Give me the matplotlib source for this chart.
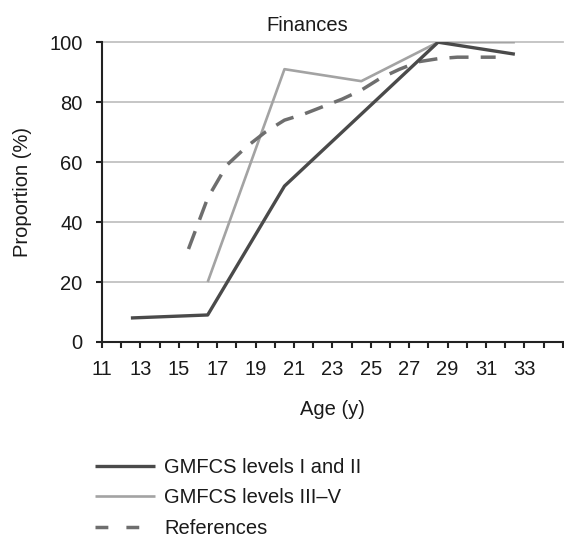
import numpy as np
import matplotlib
matplotlib.use("Agg")
import matplotlib.pyplot as plt

plt.rcParams['font.family'] = ['Liberation Sans', 'DejaVu Sans']

# age-group midpoints and proportions (%)
group_ages = [12.5, 16.5, 20.5, 24.5, 28.5, 32.5]
gmfcs_1_2 = [8, 9, 52, 76, 100, 96]
gmfcs_3_5 = [np.nan, 20, 91, 87, 100, 100]

ref_ages = [15.5, 16.5, 17.5, 18.5, 19.5, 20.5, 21.5, 22.5, 23.5,
            24.5, 25.5, 26.5, 27.5, 28.5, 29.5, 30.5, 31.5]
references = [31, 48, 59, 65, 70, 74, 76, 78.5, 81,
              84, 88, 91, 93.5, 94.5, 95, 95, 95]

x_labels = list(range(11, 35, 2))
y_ticks = [0, 20, 40, 60, 80, 100]

fs = 14.5

fig = plt.figure(figsize=(5.64, 5.48), dpi=100)
ax = fig.add_axes([0.181, 0.376, 0.817, 0.547])

for y in y_ticks[1:]:
    ax.axhline(y, color='#c2c2c2', lw=1.3, zorder=1, clip_on=False)

l1, = ax.plot(group_ages, gmfcs_1_2, color='#4a4a4a', lw=2.4,
              solid_capstyle='butt', zorder=3, label='GMFCS levels I and II')
l2, = ax.plot(group_ages, gmfcs_3_5, color='#a3a3a3', lw=1.9,
              solid_capstyle='butt', zorder=2, label='GMFCS levels III\u2013V')
l3, = ax.plot(ref_ages, references, color='#6e6e6e', lw=2.5,
              dashes=(5.5, 3.5), zorder=2, label='References')

ax.set_xlim(11, 35)
ax.set_ylim(0, 100)
ax.set_xticks(range(11, 36))
ax.set_xticklabels([str(v) if v in x_labels else '' for v in range(11, 36)])
ax.set_yticks(y_ticks)

for s in ['top', 'right']:
    ax.spines[s].set_visible(False)
for s in ['left', 'bottom']:
    ax.spines[s].set_color('#222222')
    ax.spines[s].set_linewidth(1.5)
ax.tick_params(axis='both', direction='out', length=4, width=1.5,
               color='#222222', labelsize=fs, labelcolor='#1a1a1a')
ax.tick_params(axis='y', pad=10)
ax.tick_params(axis='x', pad=9)

ax.set_title('Finances', fontsize=fs, x=0.445, pad=8, color='#1a1a1a')
ax.set_ylabel('Proportion (%)', fontsize=fs, color='#1a1a1a')
ax.yaxis.set_label_coords(-0.152, 0.5)
ax.set_xlabel('Age (y)', fontsize=fs, color='#1a1a1a')
ax.xaxis.set_label_coords(0.5, -0.195)

leg = fig.legend(handles=[l1, l2, l3], loc='upper left',
                 bbox_to_anchor=(0.168, 0.165), frameon=False, fontsize=fs,
                 borderpad=0, borderaxespad=0,
                 handlelength=3.0, handletextpad=0.45, labelspacing=0.58)
for txt in leg.get_texts():
    txt.set_color('#1a1a1a')
leg.get_lines()[2].set_dashes((3.7, 5.2))

fig.savefig('out.png', dpi=100)
